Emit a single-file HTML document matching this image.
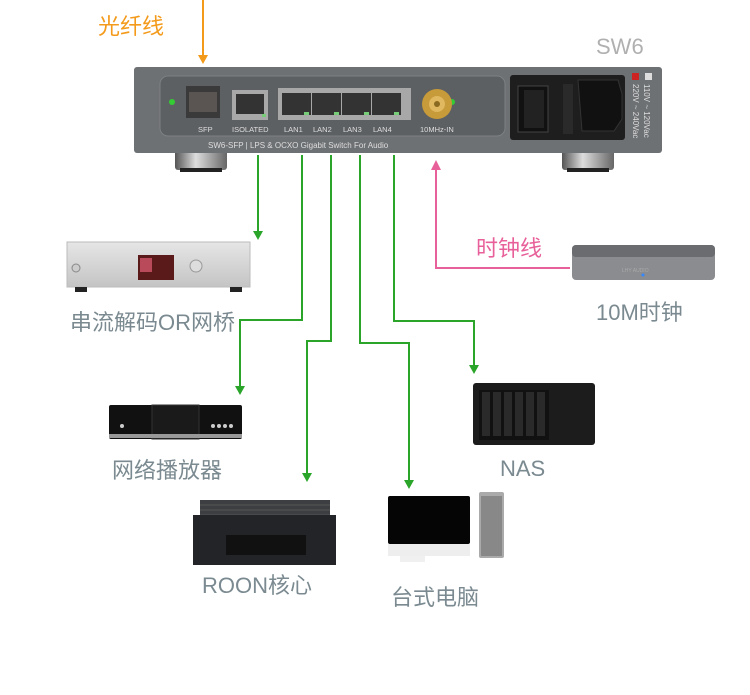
<!DOCTYPE html>
<html><head><meta charset="utf-8"><style>
html,body{margin:0;padding:0;background:#fff;width:750px;height:695px;overflow:hidden}
svg{display:block}
.cn{font-family:"Liberation Sans","Noto Sans CJK SC",sans-serif}
</style></head><body>
<svg width="750" height="695" viewBox="0 0 750 695" xmlns="http://www.w3.org/2000/svg" class="cn">
<defs>
<linearGradient id="foot" x1="0" x2="1"><stop offset="0" stop-color="#555"/><stop offset=".4" stop-color="#ddd"/><stop offset="1" stop-color="#666"/></linearGradient>
<linearGradient id="silver" x1="0" y1="0" x2="0" y2="1"><stop offset="0" stop-color="#e6e6e6"/><stop offset="1" stop-color="#c4c4c4"/></linearGradient>
</defs>
<line x1="203" y1="0" x2="203" y2="56" stroke="#f39a1a" stroke-width="2"/>
<polygon points="198,55 208,55 203,64" fill="#f39a1a"/>
<text x="98" y="34" font-size="22" fill="#f39a1a">光纤线</text>
<text x="596" y="54" font-size="22" fill="#b0b0b0">SW6</text>

<rect x="175" y="148" width="52" height="22" rx="3" fill="url(#foot)"/>
<rect x="180" y="168" width="42" height="4" fill="#222"/>
<rect x="562" y="148" width="52" height="22" rx="3" fill="url(#foot)"/>
<rect x="567" y="168" width="42" height="4" fill="#222"/>
<rect x="134" y="67" width="528" height="86" rx="3" fill="#6e7174"/>
<rect x="160" y="76" width="345" height="60" rx="8" fill="#5d6063" stroke="#7d8083"/>
<circle cx="172" cy="102" r="3" fill="#3c3"/>
<circle cx="452" cy="102" r="3" fill="#3c3"/>
<rect x="186" y="86" width="34" height="32" fill="#3a3a3a"/>
<rect x="189" y="92" width="28" height="20" fill="#5a5552"/>
<rect x="232" y="90" width="36" height="30" fill="#a8a8a8"/>
<rect x="236" y="94" width="28" height="20" fill="#333"/>
<rect x="278" y="88" width="133" height="32" fill="#a8a8a8"/>
<rect x="282" y="93" width="29" height="22" fill="#333"/><rect x="312" y="93" width="29" height="22" fill="#333"/>
<rect x="342" y="93" width="29" height="22" fill="#333"/><rect x="372" y="93" width="29" height="22" fill="#333"/>
<g fill="#7c7"><rect x="304" y="112" width="5" height="3"/><rect x="334" y="112" width="5" height="3"/><rect x="364" y="112" width="5" height="3"/><rect x="394" y="112" width="5" height="3"/><rect x="262" y="114" width="4" height="3"/></g>
<circle cx="437" cy="104" r="15" fill="#c79a3a"/><circle cx="437" cy="104" r="8" fill="#e0b860"/><circle cx="437" cy="104" r="3" fill="#8a6a20"/>
<g font-size="7.5" fill="#ddd" font-family="Liberation Sans,sans-serif">
<text x="198" y="132">SFP</text><text x="232" y="132">ISOLATED</text>
<text x="284" y="132">LAN1</text><text x="313" y="132">LAN2</text><text x="343" y="132">LAN3</text><text x="373" y="132">LAN4</text>
<text x="420" y="132">10MHz-IN</text>
<text x="208" y="148" font-size="8">SW6-SFP  |  LPS &amp; OCXO Gigabit Switch For Audio</text>
</g>
<rect x="510" y="75" width="115" height="65" rx="3" fill="#1e1e1e"/>
<rect x="518" y="86" width="30" height="46" fill="#111" stroke="#444"/>
<rect x="524" y="90" width="20" height="38" fill="#222"/>
<rect x="563" y="84" width="10" height="50" fill="#2a2a2a"/>
<path d="M578 80 h40 l4 14 v25 l-8 12 h-32 z" fill="#111" stroke="#333"/>
<rect x="632" y="73" width="7" height="7" fill="#c22"/><rect x="645" y="73" width="7" height="7" fill="#ddd"/>
<text transform="translate(644,84) rotate(90)" font-size="8" fill="#ddd" font-family="Liberation Sans,sans-serif">110V ~ 120Vac</text>
<text transform="translate(633,84) rotate(90)" font-size="8" fill="#ddd" font-family="Liberation Sans,sans-serif">220V ~ 240Vac</text>

<g stroke="#2aa52a" stroke-width="2" fill="none">
<polyline points="258,155 258,232"/>
<polyline points="302,155 302,320 240,320 240,388"/>
<polyline points="331,155 331,341 307,341 307,475"/>
<polyline points="360,155 360,343 409,343 409,482"/>
<polyline points="394,155 394,321 474,321 474,367"/>
</g>
<g fill="#2aa52a">
<polygon points="253,231 263,231 258,240"/>
<polygon points="235,386 245,386 240,395"/>
<polygon points="302,473 312,473 307,482"/>
<polygon points="404,480 414,480 409,489"/>
<polygon points="469,365 479,365 474,374"/>
</g>
<polyline points="436,168 436,268 570,268" stroke="#e8609a" stroke-width="2" fill="none"/>
<polygon points="431,170 441,170 436,160" fill="#e8609a"/>
<text x="476" y="256" font-size="22" fill="#e8609a">时钟线</text>

<rect x="67" y="242" width="183" height="45" fill="url(#silver)" stroke="#bbb"/>
<rect x="138" y="255" width="36" height="25" fill="#5a1a1a"/>
<rect x="140" y="258" width="12" height="14" fill="#b84a5a"/>
<circle cx="196" cy="266" r="6" fill="#ddd" stroke="#999"/>
<circle cx="76" cy="268" r="4" fill="#ccc" stroke="#888"/>
<rect x="75" y="287" width="12" height="5" fill="#222"/><rect x="230" y="287" width="12" height="5" fill="#222"/>
<text x="70" y="330" font-size="22" fill="#7a8a90">串流解码OR网桥</text>

<rect x="109" y="405" width="133" height="34" rx="2" fill="#111"/>
<rect x="152" y="405" width="47" height="34" fill="#1a1a1a" stroke="#333"/>
<rect x="109" y="434" width="133" height="4" fill="#999"/>
<g fill="#ccc"><circle cx="122" cy="426" r="2"/><circle cx="213" cy="426" r="2"/><circle cx="219" cy="426" r="2"/><circle cx="225" cy="426" r="2"/><circle cx="231" cy="426" r="2"/></g>
<text x="112" y="478" font-size="22" fill="#7a8a90">网络播放器</text>

<rect x="200" y="500" width="130" height="18" fill="#3c3e42"/>
<g stroke="#555" stroke-width="1"><line x1="200" y1="505" x2="330" y2="505"/><line x1="200" y1="510" x2="330" y2="510"/><line x1="200" y1="515" x2="330" y2="515"/></g>
<rect x="193" y="515" width="143" height="50" fill="#232427"/>
<rect x="226" y="535" width="80" height="20" fill="#111"/>
<text x="202" y="593" font-size="22" fill="#7a8a90">ROON核心</text>

<rect x="388" y="496" width="82" height="48" rx="2" fill="#050505"/>
<rect x="388" y="544" width="82" height="12" fill="#eee"/>
<rect x="400" y="556" width="25" height="6" fill="#f0f0f0"/>
<rect x="479" y="492" width="25" height="66" rx="2" fill="#aaa"/>
<rect x="481" y="496" width="21" height="60" fill="#888"/>
<text x="391" y="605" font-size="22" fill="#7a8a90">台式电脑</text>

<rect x="473" y="383" width="122" height="62" rx="3" fill="#1c1c1c"/>
<rect x="479" y="390" width="70" height="50" fill="#111"/>
<g fill="#2a2a2a"><rect x="482" y="392" width="8" height="44"/><rect x="493" y="392" width="8" height="44"/><rect x="504" y="392" width="8" height="44"/><rect x="515" y="392" width="8" height="44"/><rect x="526" y="392" width="8" height="44"/><rect x="537" y="392" width="8" height="44"/></g>
<text x="500" y="476" font-size="22" fill="#7a8a90">NAS</text>

<rect x="572" y="245" width="143" height="35" rx="4" fill="#8a8c8f"/>
<rect x="572" y="245" width="143" height="12" rx="4" fill="#6a6c6f"/>
<text x="622" y="272" font-size="5" fill="#aaa" font-family="Liberation Sans,sans-serif">LHY AUDIO</text>
<circle cx="643" cy="275" r="1.5" fill="#38f"/>
<text x="596" y="320" font-size="22" fill="#7a8a90">10M时钟</text>
</svg>
</body></html>
